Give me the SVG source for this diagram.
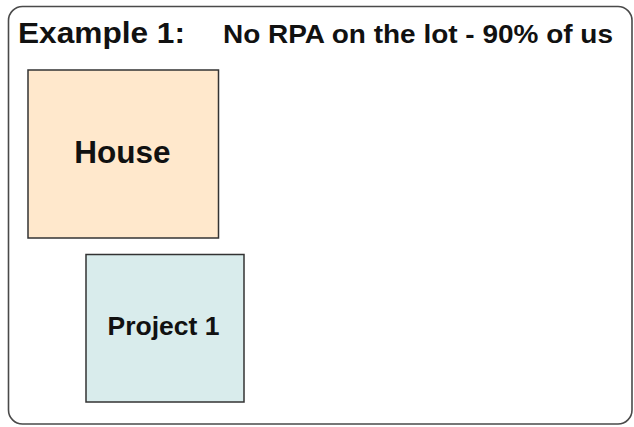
<svg xmlns="http://www.w3.org/2000/svg" width="634" height="427" viewBox="0 0 634 427">
  <style>
    .frame { fill: #ffffff; stroke: #4a4a4a; stroke-width: 1.6; }
    .box { stroke: #333333; stroke-width: 1.5; }
    .lbl { font-family: "Liberation Sans", Arial, sans-serif; font-weight: bold; fill: #111111; }
  </style>
  <rect width="634" height="427" fill="#ffffff"/>
  <!-- outer panel -->
  <rect class="frame" x="8.5" y="6.5" width="623.5" height="417.5" rx="14" ry="14"/>
  <!-- heading -->
  <text class="lbl" x="18" y="43" font-size="29" textLength="167" lengthAdjust="spacingAndGlyphs">Example 1:</text>
  <text class="lbl" x="223" y="43" font-size="25.5" textLength="390" lengthAdjust="spacingAndGlyphs">No RPA on the lot - 90% of us</text>
  <g id="house">
    <rect class="box" x="28" y="70" width="190.5" height="168" fill="#FFE8CC"/>
    <text class="lbl" x="122.5" y="162.5" font-size="31.5" text-anchor="middle">House</text>
  </g>
  <g id="project1">
    <rect class="box" x="86" y="254.5" width="158" height="147.5" fill="#D9ECEC"/>
    <text class="lbl" x="163.5" y="335" font-size="26.5" text-anchor="middle">Project 1</text>
  </g>
  <g id="connectors"/>
</svg>
